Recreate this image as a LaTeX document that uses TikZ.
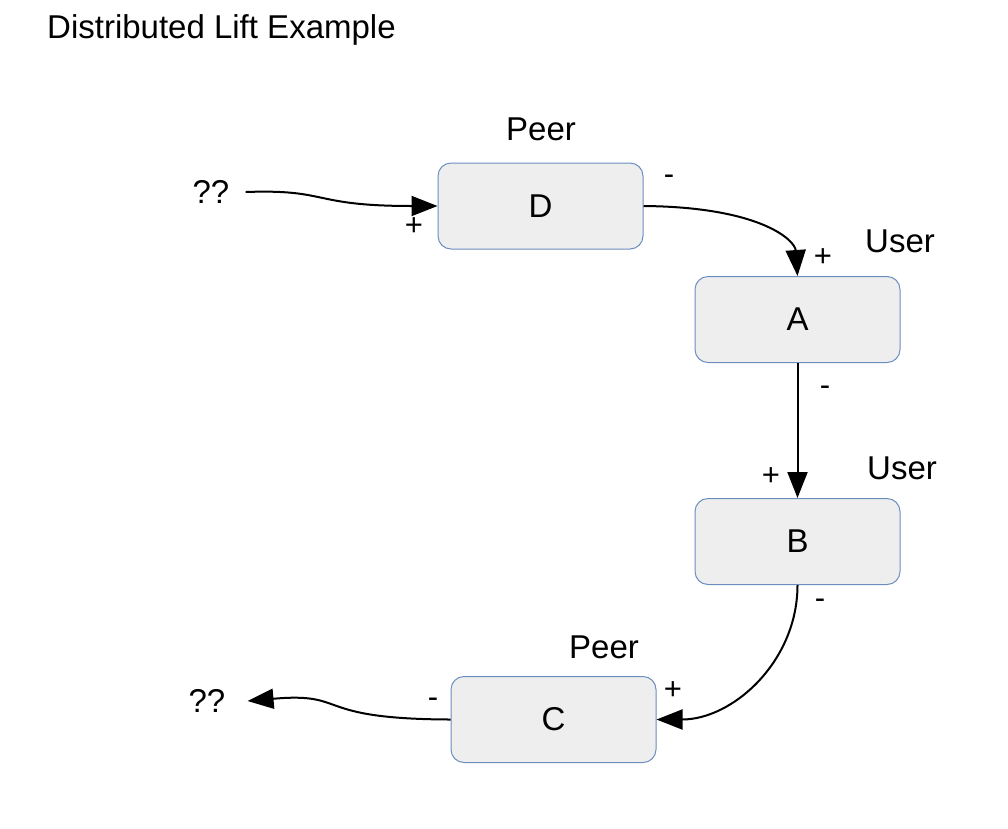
\documentclass[tikz,border=0pt]{standalone}
\usepackage{fontspec}
\setmainfont{Liberation Sans}
\usetikzlibrary{arrows.meta}
\definecolor{boxline}{HTML}{6C8EBF}
\definecolor{boxfill}{HTML}{EEEEEE}

\begin{document}
\begin{tikzpicture}[x=1pt,y=-1pt]
\tikzset{every node/.style={font=\fontsize{33}{38}\selectfont}}
\tikzset{liftbox/.style={draw=boxline,line width=1pt,fill=boxfill,rounded corners=13pt,minimum width=205pt,minimum height=86pt,inner sep=0pt}}
\tikzset{sign/.style={font=\fontsize{31}{34}\selectfont,inner sep=0pt}}
\tikzset{link/.style={line width=2pt,-{Triangle[length=26pt,width=20pt]}}}
\tikzset{free/.style={inner ysep=0pt,inner xsep=16pt}}
\useasboundingbox (0,0) rectangle (1008,828);
\node[anchor=west,inner sep=0pt] (title) at (47,30) {Distributed Lift Example};
% the four boxes
\node[liftbox] (D) at (540.5,206) {D};
\node[liftbox] (A) at (797.5,319.5) {A};
\node[liftbox] (B) at (797.5,541.5) {B};
\node[liftbox] (C) at (553.5,719.5) {C};
\node (peerD) at (541,129) {Peer};
\node (userA) at (900,241) {User};
\node (userB) at (902,468) {User};
\node (peerC) at (604,647) {Peer};
\node[free] (inQ) at (211,192) {??};
\node[free] (outQ) at (207,701) {??};
% connectors
\draw[link] (inQ.east) .. controls (330,189) and (310,206) .. (D.west);
\draw[link] (D.east) .. controls (760,207) and (795,240) .. (A.north);
\draw[link] (A.south) -- (B.north);
\draw[link] (B.south) to[out=-90,in=0] (C.east);
\draw[link] (C.west) .. controls (310,719) and (350,692) .. ([xshift=6pt]outQ.east);
% signs
\node[sign] (pD) at (414,227) {+};
\node[sign] (mD) at (669,180) {-};
\node[sign] (pA) at (823,258) {+};
\node[sign] (mA) at (825,391) {-};
\node[sign] (pB) at (771,477) {+};
\node[sign] (mB) at (820,604) {-};
\node[sign] (pC) at (673,691) {+};
\node[sign] (mC) at (433,703) {-};
\end{tikzpicture}
\end{document}
